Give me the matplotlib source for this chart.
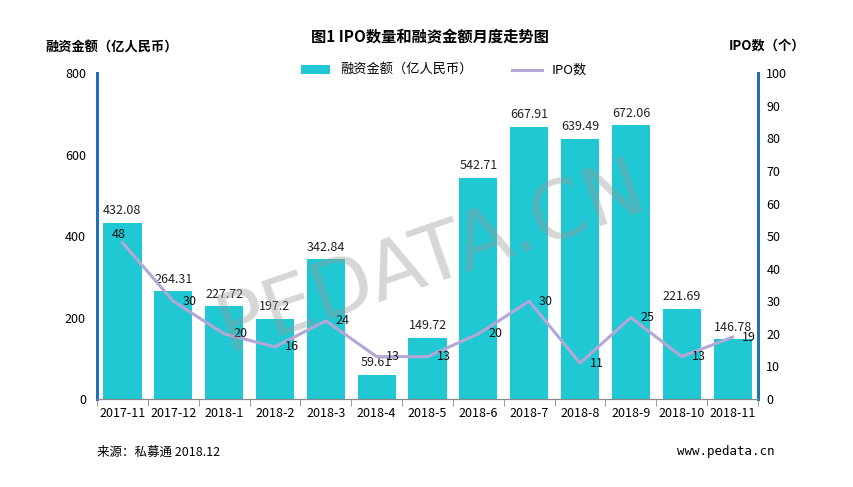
import matplotlib
matplotlib.use("Agg")
import matplotlib.pyplot as plt
import numpy as np

plt.rcParams['font.family'] = ['Noto Sans CJK SC', 'DejaVu Sans']

months = ['2017-11', '2017-12', '2018-1', '2018-2', '2018-3', '2018-4', '2018-5',
          '2018-6', '2018-7', '2018-8', '2018-9', '2018-10', '2018-11']
amount = [432.08, 264.31, 227.72, 197.2, 342.84, 59.61, 149.72,
          542.71, 667.91, 639.49, 672.06, 221.69, 146.78]
amount_labels = ['432.08', '264.31', '227.72', '197.2', '342.84', '59.61', '149.72',
                 '542.71', '667.91', '639.49', '672.06', '221.69', '146.78']
ipo = [48, 30, 20, 16, 24, 13, 13, 20, 30, 11, 25, 13, 19]

bar_color = '#1fc8d3'
line_color = '#b4a7d6'
spine_color = '#1f6fbf'

fig = plt.figure(figsize=(8.54, 4.87), dpi=100)
ax = fig.add_axes([0.1136, 0.1807, 0.774, 0.669])
ax2 = ax.twinx()

x = np.arange(len(months))
ax.bar(x, amount, width=0.75, color=bar_color, label='融资金额（亿人民币）', zorder=2)
ax.set_xlim(-0.5, len(months) - 0.5)
ax.set_ylim(0, 800)
ax.set_yticks(np.arange(0, 801, 200))
ax.set_xticks(x)
ax.set_xticklabels(months, fontsize=9)
ax.set_xticks(np.arange(-0.5, len(months), 1), minor=True)
ax.tick_params(axis='x', which='major', length=0, pad=6)
ax.tick_params(axis='x', which='minor', length=5, color='#888888')
ax.tick_params(axis='y', length=0, labelsize=9, pad=8)

for xi, v, s in zip(x, amount, amount_labels):
    ax.annotate(s, (xi, v), xytext=(0, 4), textcoords='offset points',
                ha='center', va='bottom', fontsize=9, color='#222222')

ax2.plot(x, ipo, color=line_color, lw=2.2, label='IPO数', zorder=3)
ax2.set_ylim(0, 100)
ax2.set_yticks(np.arange(0, 101, 10))
ax2.tick_params(axis='y', length=0, labelsize=9, pad=6)
for i, (xi, v) in enumerate(zip(x, ipo)):
    if i == 0:
        ax2.annotate(str(v), (xi, v), xytext=(-3, 1), textcoords='offset points',
                     ha='center', va='bottom', fontsize=9, color='#111111')
    else:
        ax2.annotate(str(v), (xi, v), xytext=(7, 0), textcoords='offset points',
                     ha='left', va='center', fontsize=9, color='#111111')

for a in (ax, ax2):
    a.spines['top'].set_visible(False)
    a.spines['left'].set_color(spine_color)
    a.spines['right'].set_color(spine_color)
    a.spines['left'].set_linewidth(2)
    a.spines['right'].set_linewidth(2)
    a.spines['bottom'].set_color('#888888')

# watermark
fig.text(0.505, 0.47, 'PEDATA.CN', fontsize=58, color='#999999', alpha=0.4,
         rotation=19, ha='center', va='center', family='DejaVu Sans')

fig.text(0.503, 0.925, '图1 IPO数量和融资金额月度走势图', ha='center', va='center',
         fontsize=11, fontweight='bold')
fig.text(0.053, 0.903, '融资金额（亿人民币）', ha='left', va='center',
         fontsize=9.5, fontweight='bold')
fig.text(0.853, 0.907, 'IPO数（个）', ha='left', va='center',
         fontsize=9.5, fontweight='bold')
fig.text(0.113, 0.072, '来源：私募通 2018.12', ha='left', va='center', fontsize=9)
fig.text(0.793, 0.072, 'www.pedata.cn', ha='left', va='center', fontsize=9,
         family='DejaVu Sans Mono')

h1, l1 = ax.get_legend_handles_labels()
h2, l2 = ax2.get_legend_handles_labels()
fig.legend(h1 + h2, l1 + l2, loc='center', bbox_to_anchor=(0.52, 0.855), ncol=2,
           frameon=False, fontsize=9.5, handlelength=2.2, columnspacing=3)

fig.savefig('out.png', dpi=100)
